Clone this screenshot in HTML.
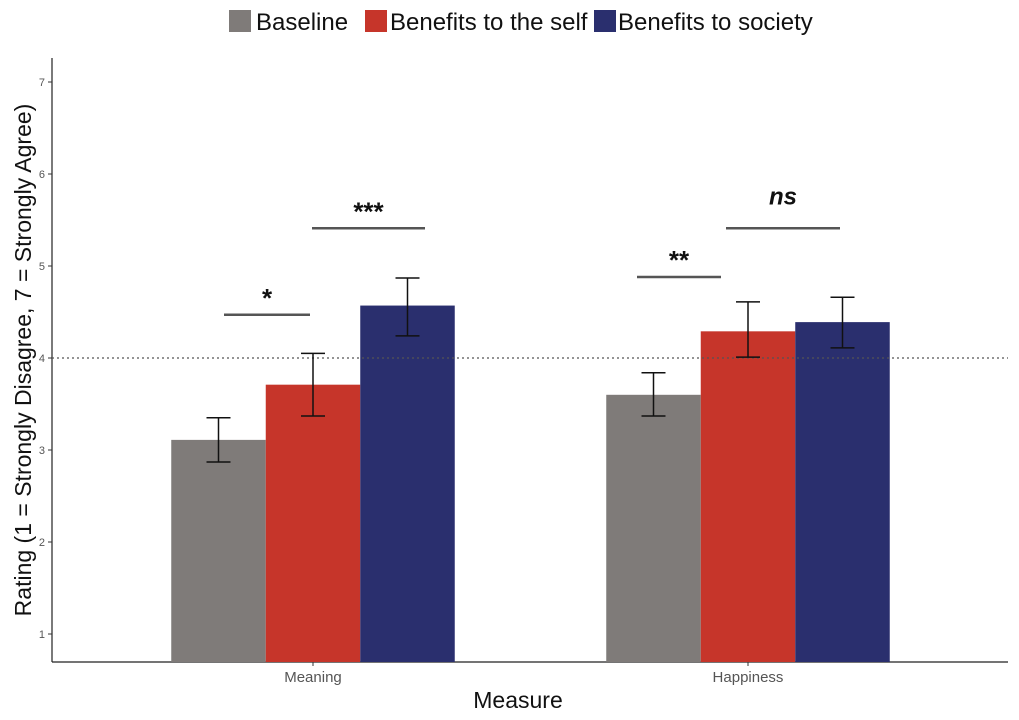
<!DOCTYPE html>
<html><head><meta charset="utf-8"><style>
body{margin:0;background:#fff;}
svg{display:block;font-family:"Liberation Sans",sans-serif;}
</style></head><body>
<svg id="chart" width="1019" height="720">
<g>
 <rect x="229" y="10" width="22" height="22" fill="#7f7b79"/>
 <text x="256" y="30" font-size="24" fill="#111">Baseline</text>
 <rect x="365" y="10" width="22" height="22" fill="#c6352a"/>
 <text x="390" y="30" font-size="24" fill="#111">Benefits to the self</text>
 <rect x="594" y="10" width="22" height="22" fill="#2a2f6e"/>
 <text x="618" y="30" font-size="24" fill="#111">Benefits to society</text>
</g>
<g id="plot"></g>
<text transform="translate(31,360) rotate(-90)" text-anchor="middle" font-size="23" fill="#111">Rating (1 = Strongly Disagree, 7 = Strongly Agree)</text>
<text x="518" y="708" text-anchor="middle" font-size="23" fill="#111">Measure</text>
</svg>
<script>
const categories = ["Meaning", "Happiness"];
const seriesNames = ["Baseline", "Benefits to the self", "Benefits to society"];
const baselineValues = [3.11, 3.60];
const selfValues = [3.71, 4.29];
const societyValues = [4.57, 4.39];
const baselineLow = [2.87, 3.37], baselineHigh = [3.35, 3.84];
const selfLow = [3.37, 4.01], selfHigh = [4.05, 4.61];
const societyLow = [4.24, 4.11], societyHigh = [4.87, 4.66];
const yTicks = [1, 2, 3, 4, 5, 6, 7];
const refValue = 4;
const sigLabels = ["*", "***", "**", "ns"];
const sigLevels = [4.47, 5.41, 4.88, 5.41];
const sigCategory = [0, 0, 1, 1];

const colors = ["#7f7b79", "#c6352a", "#2a2f6e"];
const ns = "http://www.w3.org/2000/svg";
const plot = document.getElementById('plot');
const y = v => 634 - (v - 1) * 92;
const catCenter = i => 313 + i * 435;
const barW = 94.5;
const barX = (ci, si) => catCenter(ci) - 1.5 * barW + si * barW;
const sigSpan = [[-89, -3], [-1, 112], [-111, -27], [-22, 92]];
function mk(tag, attrs, parent) { const e = document.createElementNS(ns, tag); for (const k in attrs) e.setAttribute(k, attrs[k]); (parent || plot).appendChild(e); return e; }

const ax = mk('line', {x1: 52, y1: 58, x2: 52, y2: 662, stroke: '#222', 'stroke-width': 1.2});


const bx = mk('line', {x1: 52, y1: 662, x2: 1008, y2: 662, stroke: '#222', 'stroke-width': 1.2});


yTicks.forEach(t => {
  const tk = mk('line', {x1: 48, x2: 52, y1: y(t), y2: y(t), stroke: '#333'});
  
  
  const tl = mk('text', {x: 45, y: y(t) + 4, 'text-anchor': 'end', 'font-size': 11, fill: '#555'});
  tl.textContent = t;
  
  
});
const series = [[baselineValues, baselineLow, baselineHigh], [selfValues, selfLow, selfHigh], [societyValues, societyLow, societyHigh]];
categories.forEach((c, ci) => {
  const tk = mk('line', {x1: catCenter(ci), x2: catCenter(ci), y1: 662, y2: 666, stroke: '#333'});
  
  
  const tl = mk('text', {x: catCenter(ci), y: 682, 'text-anchor': 'middle', 'font-size': 15, fill: '#555'});
  tl.textContent = c;
  
  
  series.forEach((s, si) => {
    const v = s[0][ci], x = barX(ci, si);
    const r = mk('rect', {x: x, y: y(v), width: barW, height: 662 - y(v), fill: colors[si]});
    
    
  });
});
const rl = mk('line', {x1: 52, x2: 1008, y1: y(refValue), y2: y(refValue), stroke: '#555', 'stroke-dasharray': '2,3', 'stroke-width': 1.2});


categories.forEach((c, ci) => {
  series.forEach((s, si) => {
    const cx = barX(ci, si) + barW / 2, lo = y(s[1][ci]), hi = y(s[2][ci]);
    const g = mk('g', {stroke: '#111', 'stroke-width': 1.5});
    
    
    mk('line', {x1: cx, x2: cx, y1: lo, y2: hi}, g);
    mk('line', {x1: cx - 12, x2: cx + 12, y1: lo, y2: lo}, g);
    mk('line', {x1: cx - 12, x2: cx + 12, y1: hi, y2: hi}, g);
  });
});
sigLabels.forEach((lab, i) => {
  const cc = catCenter(sigCategory[i]);
  const x1 = cc + sigSpan[i][0], x2 = cc + sigSpan[i][1];
  const yy = y(sigLevels[i]);
  const l = mk('line', {x1: x1, x2: x2, y1: yy, y2: yy, stroke: '#555', 'stroke-width': 2.5});
  
  
  const isNs = lab === 'ns';
  const t = mk('text', {x: (x1 + x2) / 2, y: yy - (isNs ? 24 : 8), 'text-anchor': 'middle', 'font-size': isNs ? 24 : 26, 'font-weight': 'bold', 'font-style': isNs ? 'italic' : 'normal', fill: '#111'});
  t.textContent = lab;
  
  
});
</script>
</body></html>
